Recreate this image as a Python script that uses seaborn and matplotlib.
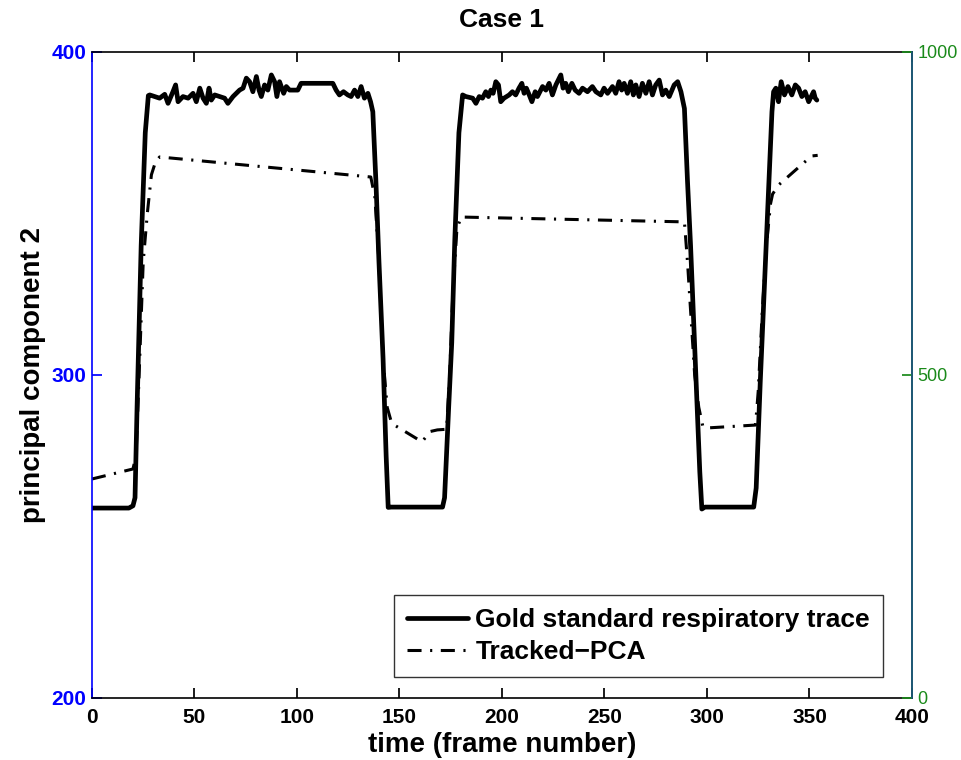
import numpy as np
import pandas as pd
import seaborn as sns
import matplotlib.pyplot as plt

# gold standard respiratory trace (frame, value on left axis)
gold_frame = [0, 18, 20, 21, 22, 24, 26, 27.5, 28.2, 30.6, 33, 35.5, 37.1, 39.5, 40.8, 42,
              44.4, 46.9, 49.3, 50.9, 52.6, 54.2, 55.8, 57.1, 58.2, 59.9, 62.3, 64.7, 66.3,
              68.8, 72, 73.7, 75.3, 76.9, 78.5, 80.2, 81.5, 82.6, 84.2, 85.8, 87.5, 89.1,
              90.2, 91.5, 93.5, 94.8, 96.4, 100.4, 102, 117.5, 119.1, 120.7, 122.7, 124.8,
              126.4, 128.1, 129.7, 131.3, 132.9, 134.6, 135.9, 137, 138.5, 140, 142, 143.5,
              144.5, 146, 171, 172, 174, 175.5, 177, 179, 180.8, 182.4, 185.7, 187.3, 188.9,
              190.5, 192.1, 193.4, 194.6, 195.7, 197, 198.3, 199.4, 201, 203.5, 205.1, 206.7,
              208.3, 209.7, 210.8, 211.9, 213.3, 214.6, 216.2, 217.3, 219.8, 221.4, 223,
              224.6, 226.3, 227.9, 228.7, 229.8, 231.1, 232.4, 234.1, 235.7, 237.6, 239.3,
              241.7, 244.1, 245.8, 248.2, 249.8, 251.5, 253.9, 255.5, 257.1, 258.4, 259.6,
              261.2, 262.8, 264.1, 265.3, 266.9, 268.5, 270.2, 271.8, 273.4, 275, 276.7,
              278.3, 279.9, 281.6, 284, 285.7, 287.3, 289, 290.5, 292, 294.6, 296.5, 297.5,
              299, 322.8, 324, 326, 329, 331.7, 332.5, 333.6, 334.9, 336.2, 337.8, 339.5,
              341.4, 343.1, 344.7, 346.3, 347.9, 349.6, 351.2, 352, 352.8, 353.6]
gold_value = [258.8, 258.8, 259.5, 262, 290, 340, 375, 386.5, 386.7, 386.2, 385.7, 386.9, 384.1,
              387.7, 389.8, 384.6, 386.2, 385.7, 387.2, 384.6, 388.8, 385.7, 384.1, 388.8,
              385.1, 386.7, 386.2, 385.7, 384.1, 386.2, 388.2, 388.8, 391.9, 390.8, 387.7,
              392.4, 388.2, 386.2, 389.8, 388.2, 392.9, 390.8, 386.2, 390.8, 387.2, 389.3,
              388.2, 388.2, 390.3, 390.3, 388.2, 386.7, 387.7, 386.7, 386.2, 388.2, 386.2,
              389.3, 385.7, 387.2, 384.6, 381.5, 360, 335, 305, 275, 259, 259.1, 259.1, 262,
              290, 310, 342, 375, 386.7, 386.2, 385.7, 384.1, 386.2, 385.7, 387.7, 386.2,
              388.2, 387.2, 390.8, 389.8, 384.6, 385.7, 386.7, 387.7, 386.7, 388.8, 390.3,
              387.2, 388.8, 386.7, 384.6, 387.7, 386.2, 389.3, 388.2, 390.3, 386.7, 389.8,
              391.9, 392.9, 388.8, 390.3, 387.7, 390.3, 388.2, 387.2, 388.8, 387.7, 389.3,
              387.7, 386.7, 388.8, 387.2, 389.3, 387.2, 390.8, 388.2, 390.3, 387.2, 390.8,
              386.7, 389.8, 386.2, 390.3, 387.2, 390.8, 386.7, 389.8, 391.3, 386.7, 388.2,
              386.2, 389.8, 390.8, 387.7, 382.5, 360, 340, 300, 270, 258.5, 259.1, 259.1,
              265, 298, 342, 381.5, 387.7, 388.8, 384.6, 390.8, 386.7, 389.3, 386.7, 389.8,
              388.8, 386.2, 387.7, 384.6, 386.7, 387.7, 385.7, 385.1]

# tracked-PCA estimate
pca_frame = [0, 20, 21.5, 23, 25, 27, 29, 31, 33, 136, 138, 140, 142, 144, 146, 147.5, 161, 165,
             168.5, 173, 174.5, 176, 178, 180, 289, 290.5, 292, 294, 296, 298, 300, 323.7, 325,
             327, 329, 331, 332, 334.9, 351, 354]
pca_value = [267.8, 270.9, 275, 300, 335, 350, 362, 366, 367.5, 361.3, 355, 335, 305, 290, 285.5,
             284.5, 279.3, 282.5, 283, 283.2, 300, 325, 345, 348.9, 347.4, 335, 320, 300, 290,
             284, 283.6, 284.5, 295, 320, 340, 353, 356, 358.8, 367.8, 368]

x_ticks = [0, 50, 100, 150, 200, 250, 300, 350, 400]
left_ticks = [200, 300, 400]
right_ticks = [0, 500, 1000]

sns.set_theme(style="white")
plt.rcParams['font.family'] = ['Liberation Sans', 'DejaVu Sans']
plt.rcParams['text.color'] = 'black'
plt.rcParams['axes.labelcolor'] = 'black'
plt.rcParams['axes.titlecolor'] = 'black'

fig = plt.figure(figsize=(9.62, 7.6), dpi=100)
ax = fig.add_axes([0.0956, 0.0816, 0.8524, 0.85])

gold = pd.DataFrame({'frame': gold_frame, 'value': gold_value})
pca = pd.DataFrame({'frame': pca_frame, 'value': pca_value})

sns.lineplot(data=gold, x='frame', y='value', ax=ax, color='black', linewidth=3.4,
             sort=False, estimator=None, label='Gold standard respiratory trace')
sns.lineplot(data=pca, x='frame', y='value', ax=ax, color='black', linewidth=2.2,
             sort=False, estimator=None, linestyle=(0, (4.6, 2.8, 0.7, 2.8)),
             label='Tracked\u2212PCA')

ax.set_xlim(0, 400)
ax.set_ylim(200, 400)
ax.set_xticks(x_ticks)
ax.set_xticklabels([str(t) for t in x_ticks], fontsize=15, fontweight='bold', color='black')
ax.set_yticks(left_ticks)
ax.set_yticklabels([str(t) for t in left_ticks], fontsize=15, fontweight='bold', color='blue')
ax.tick_params(axis='x', direction='in', length=7, top=True, bottom=True, pad=7, colors='black')
ax.tick_params(axis='y', direction='in', length=7, colors='blue', pad=4)
ax.set_xlabel('time (frame number)', fontsize=20, fontweight='bold', labelpad=4, color='black')
ax.set_ylabel('principal component 2', fontsize=20, fontweight='bold', labelpad=4, color='black')
ax.set_title('Case 1', fontsize=19, fontweight='bold', pad=18, color='black')

for side in ['top', 'bottom']:
    ax.spines[side].set_color('black')
    ax.spines[side].set_linewidth(1.2)
ax.spines['left'].set_color('blue')
ax.spines['left'].set_linewidth(1.2)

ax2 = ax.twinx()
ax2.set_ylim(0, 1000)
ax2.set_yticks(right_ticks)
ax2.set_yticklabels([str(t) for t in right_ticks], fontsize=13, color='#1a8a1a')
ax2.tick_params(axis='y', direction='in', length=7, colors='#1a8a1a', pad=4)
ax2.spines['right'].set_color('#1a5e80')
ax2.spines['right'].set_linewidth(1.2)
for side in ['top', 'bottom', 'left']:
    ax2.spines[side].set_visible(False)

handles, labels = ax.get_legend_handles_labels()
ax.get_legend().remove()
leg = ax2.legend(handles, labels, loc='lower right', bbox_to_anchor=(0.965, 0.032),
                 prop={'weight': 'bold', 'size': 19}, frameon=True,
                 fancybox=False, edgecolor='black', handlelength=2.3, handletextpad=0.3,
                 borderpad=0.5, labelspacing=0.3, borderaxespad=0.0)
leg.get_frame().set_linewidth(1.0)
for t in leg.get_texts():
    t.set_color('black')

plt.savefig('out.png', dpi=100)
